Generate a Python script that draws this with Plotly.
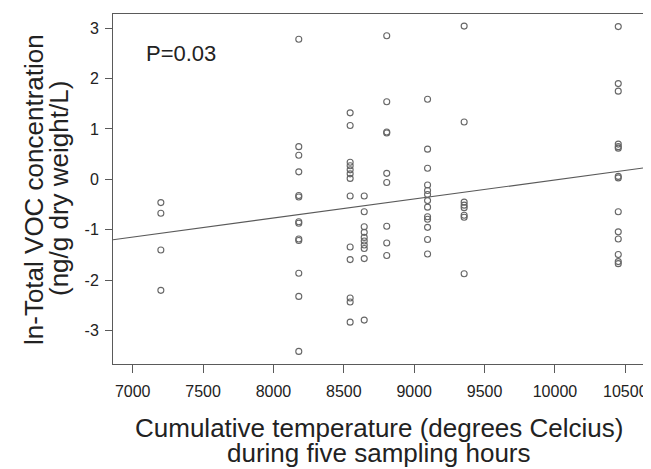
import plotly.graph_objects as go

# Cumulative temperature groups (x) and ln-Total VOC values (y)
temps = [7200, 8180, 8545, 8645, 8805, 9095, 9355, 10450]
voc_7200 = [-0.46, -0.67, -1.40, -2.20]
voc_8180 = [2.78, 0.65, 0.48, 0.15, -0.32, -0.35, -0.84, -0.87, -1.18, -1.21, -1.86, -2.32, -3.41]
voc_8545 = [1.32, 1.07, 0.34, 0.27, 0.19, 0.11, 0.02, -0.33, -1.34, -1.59, -2.35, -2.43, -2.83]
voc_8645 = [-0.33, -0.64, -0.94, -1.05, -1.15, -1.22, -1.30, -1.37, -1.57, -2.79]
voc_8805 = [2.85, 1.54, 0.94, 0.92, 0.12, -0.06, -0.93, -1.26, -1.51]
voc_9095 = [1.59, 0.60, 0.22, -0.11, -0.22, -0.30, -0.42, -0.55, -0.74, -0.79, -0.95, -1.19, -1.48]
voc_9355 = [3.04, 1.14, -0.45, -0.51, -0.56, -0.71, -0.75, -1.87]
voc_10450 = [3.03, 1.90, 1.75, 0.70, 0.65, 0.62, 0.06, 0.03, -0.64, -1.04, -1.18, -1.49, -1.63, -1.67]

# Regression line
fit_intercept = -3.79
fit_slope = 0.000378

x_ticks = [7000, 7500, 8000, 8500, 9000, 9500, 10000, 10500]
y_ticks = [-3, -2, -1, 0, 1, 2, 3]
x_range = [6860, 10640]
y_range = [-3.66, 3.28]

groups = [voc_7200, voc_8180, voc_8545, voc_8645, voc_8805, voc_9095, voc_9355, voc_10450]
xs, ys = [], []
for t, vals in zip(temps, groups):
    xs += [t] * len(vals)
    ys += vals

FONT = "Liberation Sans, Arial, sans-serif"
GRAY = "#5a5a5a"
TXT = "#222222"

fig = go.Figure()
fig.add_trace(go.Scatter(
    x=x_range, y=[fit_intercept + fit_slope * v for v in x_range],
    mode="lines", line=dict(color=GRAY, width=1.2), hoverinfo="skip"))
fig.add_trace(go.Scatter(
    x=xs, y=ys, mode="markers",
    marker=dict(symbol="circle-open", size=6, color="#666666", line=dict(width=1.1))))

# page body has an 8px default margin, so the figure is sized to fit inside the window
fig.update_layout(
    width=643, height=461,
    margin=dict(l=105, r=6, t=6, b=105),
    paper_bgcolor="white", plot_bgcolor="white",
    showlegend=False,
    font=dict(family=FONT, color=TXT),
)
fig.update_xaxes(
    range=x_range, tickvals=x_ticks, ticktext=[str(v) for v in x_ticks],
    showgrid=False, zeroline=False, automargin=False,
    showline=True, mirror=True, linecolor=GRAY, linewidth=1,
    ticks="outside", ticklen=8, tickcolor=GRAY, tickwidth=1,
    tickfont=dict(size=16, color=TXT), ticklabelstandoff=5,
    ticklabeloverflow="allow",
)
fig.update_yaxes(
    range=y_range, tickvals=y_ticks, ticktext=[str(v) for v in y_ticks],
    showgrid=False, zeroline=False, automargin=False,
    showline=True, mirror=True, linecolor=GRAY, linewidth=1,
    ticks="outside", ticklen=7, tickcolor=GRAY, tickwidth=1,
    tickfont=dict(size=16, color=TXT), ticklabelstandoff=3,
    ticklabeloverflow="allow",
)

fig.add_annotation(x=7078, y=2.5, xref="x", yref="y", text="P=0.03",
                   showarrow=False, xanchor="left", yanchor="middle",
                   font=dict(size=22, family=FONT, color=TXT))
# x-axis title (two lines)
fig.add_annotation(x=0.5, y=-0.182, xref="paper", yref="paper",
                   text="Cumulative temperature (degrees Celcius)",
                   showarrow=False, xanchor="center", yanchor="middle",
                   font=dict(size=26, family=FONT, color=TXT))
fig.add_annotation(x=0.5, y=-0.255, xref="paper", yref="paper",
                   text="during five sampling hours",
                   showarrow=False, xanchor="center", yanchor="middle",
                   font=dict(size=26, family=FONT, color=TXT))
# y-axis title (two lines)
fig.add_annotation(x=-0.1485, y=0.5, xref="paper", yref="paper",
                   text="ln-Total VOC concentration",
                   showarrow=False, xanchor="center", yanchor="middle", textangle=-90,
                   font=dict(size=26, family=FONT, color=TXT))
fig.add_annotation(x=-0.1015, y=0.5, xref="paper", yref="paper",
                   text="(ng/g dry weight/L)",
                   showarrow=False, xanchor="center", yanchor="middle", textangle=-90,
                   font=dict(size=26, family=FONT, color=TXT))

fig.write_html("out.html")
